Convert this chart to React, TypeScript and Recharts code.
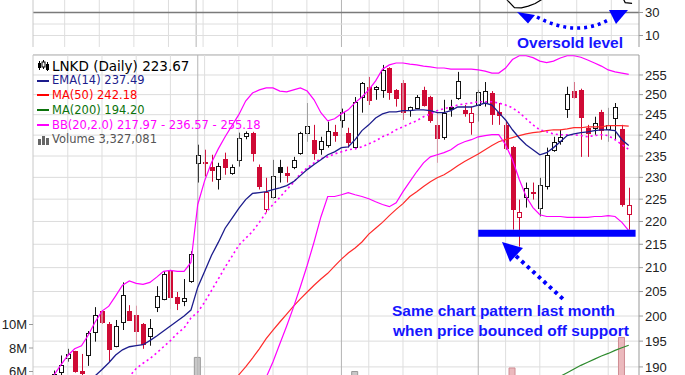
import React from "react";
import {
  ComposedChart,
  LineChart,
  Bar,
  Line,
  XAxis,
  YAxis,
  CartesianGrid,
  ReferenceLine,
  Cell,
} from "recharts";

// 88 daily slots: 2 hidden lead-in days, 85 visible sessions, 1 empty slot at the right edge
const slots = Array.from({ length: 88 }, (_, i) => i);

const opens = [184.5, 185.9,
  187.6, 189.1, 191.8, 193.1, 189.3, 192.2, 196.8, 201.0, 198.4, 194.1,
  198.8, 201.1, 200.2, 198.4, 196.0, 201.8, 203.5, 209.2, 203.9, 203.1,
  207.2, 233.4, 233.7, 232.5, 229.7, 234.4, 231.1, 234.1, 239.9, 240.6,
  232.5, 222.7, 225.4, 232.3, 231.1, 232.3, 235.8, 240.6, 238.9, 236.7,
  237.7, 240.8, 243.7, 240.6, 237.2, 249.4, 252.0, 251.5, 251.2, 256.8,
  251.2, 253.0, 246.2, 246.7, 251.2, 249.4, 242.5, 239.6, 246.9, 249.2,
  246.2, 243.3, 247.4, 247.9, 250.4, 245.7, 242.5, 237.2, 220.9, 225.4,
  226.7, 223.1, 227.9, 236.5, 238.6, 246.4, 250.9, 251.2, 241.8, 241.8,
  245.7, 241.5, 244.2, 241.5, 221.6, null];

const highs = [186.2, 187.6,
  189.3, 192.2, 193.5, 193.1, 192.5, 197.0, 201.8, 201.2, 198.8, 199.2,
  206.9, 202.2, 202.1, 198.6, 199.4, 206.1, 209.2, 209.6, 204.9, 207.6,
  213.5, 237.7, 236.5, 235.3, 233.4, 235.8, 233.0, 240.6, 240.9, 240.8,
  233.0, 229.9, 234.1, 234.1, 232.5, 234.8, 240.8, 247.9, 242.5, 239.6,
  243.3, 242.5, 246.5, 241.8, 249.4, 253.2, 254.5, 252.2, 257.6, 257.0,
  251.4, 253.7, 247.0, 249.9, 252.0, 249.7, 245.5, 248.7, 248.7, 255.8,
  247.4, 247.0, 251.2, 253.2, 250.9, 247.9, 243.3, 237.4, 224.9, 228.8,
  228.8, 229.9, 237.0, 239.6, 241.3, 252.0, 253.2, 251.5, 242.5, 244.5,
  246.2, 246.7, 247.9, 242.5, 227.6, null];

const lows = [183.6, 185.1,
  186.8, 188.2, 191.0, 188.9, 188.0, 190.2, 194.9, 198.4, 191.0, 193.8,
  197.2, 199.0, 194.1, 193.5, 194.1, 200.8, 203.2, 201.4, 201.2, 202.0,
  206.8, 228.8, 230.2, 229.0, 227.2, 230.6, 230.6, 232.5, 239.0, 233.7,
  227.2, 222.0, 225.1, 228.8, 228.8, 231.9, 235.3, 238.4, 234.1, 235.3,
  237.0, 238.4, 241.8, 237.0, 237.0, 245.5, 247.4, 248.7, 249.2, 248.7,
  247.0, 243.7, 244.5, 246.4, 247.0, 243.0, 233.4, 238.9, 244.5, 248.7,
  244.5, 240.1, 243.3, 247.0, 242.5, 242.5, 236.5, 218.2, 214.5, 223.1,
  224.9, 221.1, 227.2, 236.0, 237.7, 244.2, 249.0, 234.8, 234.8, 240.1,
  238.9, 238.4, 238.9, 223.3, 218.2, null];

const closes = [185.8, 187.0,
  188.6, 190.4, 192.5, 189.3, 188.8, 196.6, 200.2, 198.8, 193.5, 198.0,
  204.3, 199.2, 197.0, 194.5, 197.6, 204.1, 208.6, 203.9, 202.6, 203.7,
  212.8, 235.3, 233.4, 231.6, 232.7, 232.3, 232.5, 239.4, 240.5, 235.8,
  227.9, 226.7, 230.2, 231.3, 230.6, 234.1, 240.6, 242.3, 235.8, 238.7,
  241.1, 240.1, 245.7, 238.4, 248.2, 253.0, 248.7, 251.9, 256.3, 250.7,
  249.2, 245.7, 246.9, 249.4, 247.4, 243.7, 239.4, 245.5, 246.4, 253.5,
  245.5, 245.3, 250.7, 251.0, 245.1, 244.9, 237.0, 222.7, 222.0, 227.6,
  226.5, 228.3, 235.3, 238.4, 239.6, 250.2, 249.4, 244.5, 240.6, 243.0,
  241.3, 242.5, 246.9, 223.8, 223.67, null];

// volume in millions of shares
const volumes = [3.1, 3.4,
  3.2, 3.6, 3.0, 3.9, 2.8, 4.4, 4.8, 3.7, 4.1, 3.3,
  5.0, 3.9, 3.5, 3.8, 2.9, 4.2, 4.6, 4.3, 2.7, 3.0,
  5.3, 7.2, 5.2, 3.4, 2.9, 2.6, 2.3, 3.6, 2.8, 3.2,
  3.9, 4.3, 3.1, 2.5, 2.2, 2.6, 3.4, 3.9, 3.3, 2.4,
  2.8, 2.1, 3.0, 3.2, 6.0, 4.4, 3.6, 2.7, 4.1, 3.8,
  2.6, 3.5, 2.4, 2.2, 2.5, 3.0, 4.2, 3.3, 2.0, 3.4,
  2.6, 2.7, 2.9, 2.3, 3.1, 2.4, 3.8, 6.3, 5.1, 3.6,
  2.5, 3.3, 4.0, 2.9, 2.2, 3.9, 2.4, 3.5, 2.9, 2.1,
  2.6, 2.3, 2.8, 8.9, 3.327081, null];

const ema14 = [181.5, 182.5,
  183.3, 184.2, 185.1, 185.6, 186.0, 187.0, 188.3, 189.5, 190.8, 192.3,
  193.3, 193.9, 194.1, 194.3, 195.1, 196.0, 197.0, 198.0, 199.0, 200.0,
  201.2, 205.9, 209.2, 212.6, 215.4, 218.5, 220.7, 222.9, 224.9, 226.3,
  226.5, 226.7, 227.2, 227.6, 228.1, 229.0, 230.4, 231.8, 233.0, 234.1,
  235.3, 236.0, 237.0, 237.2, 238.9, 241.1, 242.5, 244.2, 245.2, 245.7,
  245.7, 246.0, 246.0, 246.2, 246.2, 246.0, 245.5, 245.5, 246.0, 246.9,
  246.9, 246.9, 247.4, 247.9, 247.4, 245.5, 243.7, 241.3, 239.3, 237.7,
  236.5, 235.3, 235.8, 237.0, 238.4, 239.9, 240.3, 240.6, 240.8, 241.1,
  241.3, 241.3, 241.1, 238.9, 237.49, null];

const ma50 = [null, null,
  null, null, null, null, null, null, null, null, null, null,
  null, null, null, null, null, null, null, null, null, 180.6,
  181.2, 181.8, 182.5, 183.3, 184.2, 185.3, 186.8, 188.5, 190.0, 191.7,
  193.5, 195.5, 197.2, 198.8, 200.4, 202.0, 203.5, 204.9, 206.3, 207.6,
  208.8, 210.3, 211.8, 213.1, 214.2, 215.5, 217.2, 218.5, 219.8, 221.3,
  222.7, 224.0, 225.6, 226.7, 227.9, 229.0, 229.9, 230.6, 231.6, 232.7,
  233.7, 234.6, 235.5, 236.5, 237.5, 238.4, 238.9, 239.4, 239.9, 240.3,
  240.6, 240.8, 241.1, 241.3, 241.3, 241.5, 241.8, 241.8, 242.0, 242.0,
  242.0, 242.3, 242.3, 242.3, 242.18, null];

const ma200 = [null, null,
  null, null, null, null, null, null, null, null, null, null,
  null, null, null, null, null, null, null, null, null, null,
  null, null, null, null, null, null, null, null, null, null,
  null, null, null, null, null, null, null, null, null, null,
  null, null, null, null, null, null, null, null, null, null,
  null, null, null, null, null, null, null, null, null, null,
  null, null, null, null, null, null, null, null, null, 185.0,
  185.8, 186.5, 187.1, 187.7, 188.2, 188.9, 189.6, 190.3, 190.9, 191.5,
  192.1, 192.6, 193.2, 193.7, 194.2, null];

const bbMid = [null, null,
  176.0, 177.0, 178.0, 178.8, 179.5, 180.3, 181.1, 182.0, 183.5, 185.0,
  186.6, 188.2, 189.7, 190.7, 191.6, 192.7, 193.9, 195.1, 196.5, 197.6,
  199.6, 200.8, 202.8, 205.2, 207.6, 210.1, 212.4, 214.8, 216.3, 217.8,
  219.8, 222.0, 223.8, 225.4, 227.2, 228.8, 230.9, 232.2, 233.4, 234.4,
  234.8, 235.5, 236.0, 236.5, 236.7, 237.2, 237.9, 238.6, 239.6, 240.3,
  241.3, 242.0, 242.8, 243.5, 244.5, 245.2, 246.0, 246.5, 246.9, 247.4,
  247.7, 247.9, 248.2, 248.2, 248.2, 247.9, 247.4, 246.7, 245.5, 244.0,
  242.5, 241.3, 240.8, 240.3, 240.1, 240.1, 240.1, 239.9, 239.6, 239.9,
  240.1, 239.9, 238.9, 237.7, 236.57, null];

const bbUpper = [null, null,
  188.5, 190.4, 192.2, 193.5, 194.1, 196.2, 198.8, 201.0, 202.0, 204.1,
  206.3, 207.2, 206.7, 206.5, 206.9, 208.0, 209.2, 209.4, 209.2, 209.2,
  211.1, 223.8, 229.2, 233.4, 236.7, 239.6, 242.3, 245.0, 248.4, 250.4,
  251.2, 251.7, 251.7, 250.9, 250.7, 251.2, 251.7, 250.9, 248.7, 245.5,
  243.5, 244.0, 245.2, 246.2, 248.0, 249.4, 251.2, 253.5, 256.5, 257.6,
  258.1, 258.1, 257.8, 257.6, 257.3, 257.1, 256.8, 256.8, 256.5, 256.5,
  256.5, 256.5, 256.3, 256.0, 255.5, 255.5, 256.8, 259.0, 260.0, 260.0,
  259.5, 258.6, 258.2, 258.6, 259.4, 260.0, 260.0, 259.6, 258.9, 258.1,
  257.3, 256.3, 255.8, 255.5, 255.18, null];

const bbLower = [null, null,
  163.5, 163.6, 163.8, 164.1, 164.9, 164.4, 163.4, 163.0, 165.0, 166.0,
  167.0, 169.2, 172.7, 174.9, 176.3, 177.4, 178.6, 180.8, 183.8, 186.0,
  188.0, 177.8, 176.4, 177.0, 178.5, 180.6, 182.5, 183.8, 184.2, 184.8,
  186.0, 188.0, 191.0, 194.5, 198.0, 201.8, 206.0, 210.5, 215.5, 221.0,
  225.6, 225.6, 226.0, 226.5, 226.0, 225.6, 225.1, 224.4, 223.8, 223.3,
  224.2, 226.7, 229.0, 231.3, 233.4, 234.8, 235.3, 235.8, 236.5, 237.7,
  238.4, 238.9, 239.6, 239.9, 240.1, 240.1, 237.7, 234.1, 229.5, 225.6,
  223.1, 221.5, 221.1, 221.1, 221.1, 220.9, 220.9, 220.9, 220.9, 221.1,
  221.1, 221.3, 221.1, 219.8, 217.97, null];

const rsi = [55, 58,
  60, 62, 64, 56, 55, 62, 66, 62, 55, 61,
  66, 60, 57, 53, 55, 61, 66, 58, 57, 58,
  66, 82, 81, 79, 80, 78, 78, 81, 81, 73,
  64, 62, 66, 67, 66, 68, 72, 74, 66, 68,
  70, 69, 73, 65, 74, 77, 71, 73, 77, 66,
  63, 56, 57, 60, 55, 49, 45, 54, 53, 59,
  52, 52, 57, 57, 50, 48, 40.5, 34.2, 34.0, 35.6,
  37.8, 41.5, 48, 52, 53, 60, 58, 50, 47, 49,
  46, 47, 51, 38.6, 38.0, null];

const priceTicks = [190, 195, 200, 205, 210, 215, 220, 225, 230, 235, 240, 245, 250, 255];
const volTicks = [6, 8, 10];
const rsiTicks = [10, 30];
const weekSlots = [4, 9, 14, 19, 24, 29, 34, 39, 48, 53, 58, 68, 73, 78, 83];
const monthSlots = [23, 44, 64];
const supportLevel = 217.4;
const supportFrom = 64;
const supportTo = 87;

const RED = "#cf0a35";
const BLUE = "#0000ff";
const axisFont = { fontSize: 13, fill: "#222", fontFamily: "Liberation Sans, Arial, sans-serif" };

const rows = slots.map((s, i) => ({
  slot: s,
  open: opens[i],
  high: highs[i],
  low: lows[i],
  close: closes[i],
  prevClose: i > 0 ? closes[i - 1] : null,
  vol: volumes[i],
  ema: ema14[i],
  ma50: ma50[i],
  ma200: ma200[i],
  bbU: bbUpper[i],
  bbM: bbMid[i],
  bbL: bbLower[i],
  rsi: rsi[i],
}));

const last = 86;

function Candle(props: any) {
  const { x, y, width, height, payload } = props;
  if (!payload || payload.high == null || y == null || isNaN(y)) return <g />;
  const { open, close, high, low, prevClose } = payload;
  const top = Math.min(y, y + height);
  const span = Math.abs(height);
  const lh = Math.log(high);
  const range = lh - Math.log(low) || 1;
  const toY = (v: number) => top + (span * (lh - Math.log(v))) / range;
  const cx = Math.round(x + width / 2) + 0.5;
  const color = prevClose != null && close < prevClose ? RED : "#111";
  const hollow = close > open;
  const bTop = Math.round(toY(Math.max(open, close))) + 0.5;
  const bBot = Math.round(toY(Math.min(open, close))) + 0.5;
  return (
    <g>
      <line x1={cx} x2={cx} y1={top} y2={top + span} stroke={color} strokeWidth={1} />
      <rect
        x={cx - 2}
        y={bTop}
        width={4}
        height={Math.max(bBot - bTop, 1)}
        fill={hollow ? "#fff" : color}
        stroke={color}
        strokeWidth={1}
      />
    </g>
  );
}

function gridLines(yId: string) {
  return [
    ...weekSlots.map((k) => (
      <ReferenceLine key={"w" + k} x={k} yAxisId={yId} stroke="#dedede" strokeWidth={1} />
    )),
    ...monthSlots.map((k) => (
      <ReferenceLine key={"m" + k} x={k} yAxisId={yId} stroke="#b4b4b4" strokeWidth={1} />
    )),
  ];
}

const CandleIcon = () => (
  <svg width={13} height={11}>
    <line x1={2.5} x2={2.5} y1={1} y2={10} stroke="#000" />
    <rect x={1} y={3} width={3} height={5} fill="#000" />
    <line x1={6.5} x2={6.5} y1={0} y2={9} stroke="#000" />
    <rect x={5} y={2} width={3} height={5} fill="#fff" stroke="#000" />
    <line x1={10.5} x2={10.5} y1={2} y2={11} stroke="#000" />
    <rect x={9} y={4} width={3} height={6} fill="#000" />
  </svg>
);

const VolIcon = () => (
  <svg width={13} height={11}>
    <rect x={1} y={5} width={3} height={6} fill="#666" />
    <rect x={5} y={2} width={3} height={9} fill="#666" />
    <rect x={9} y={4} width={3} height={7} fill="#666" />
  </svg>
);

const Dash = ({ color }: { color: string }) => (
  <span style={{ display: "inline-block", width: 12, height: 2, background: color, marginRight: 1 }} />
);

export default function App() {
  const legend = [
    { text: `LNKD (Daily) ${closes[last]!.toFixed(2)}`, color: "#000", icon: <CandleIcon />, size: 13.5 },
    { text: `EMA(14) ${ema14[last]!.toFixed(2)}`, color: "#1c1c8c", icon: <Dash color="#1c1c8c" />, size: 11.5 },
    { text: `MA(50) ${ma50[last]!.toFixed(2)}`, color: "#f00", icon: <Dash color="#f00" />, size: 11.5 },
    { text: `MA(200) ${ma200[last]!.toFixed(2)}`, color: "#0b730b", icon: <Dash color="#0b730b" />, size: 11.5 },
    {
      text: `BB(20,2.0) ${bbLower[last]!.toFixed(2)} - ${bbMid[last]!.toFixed(2)} - ${bbUpper[last]!.toFixed(2)}`,
      color: "#f0f",
      icon: <Dash color="#f0f" />,
      size: 11.5,
    },
    {
      text: `Volume ${Math.round(volumes[last]! * 1e6).toLocaleString("en-US")}`,
      color: "#555",
      icon: <VolIcon />,
      size: 11.5,
    },
  ];

  return (
    <div
      style={{
        position: "absolute",
        left: 0,
        top: 0,
        width: 685,
        height: 375,
        overflow: "hidden",
        background: "#fff",
      }}
    >
      {/* panel divider */}
      <div style={{ position: "absolute", left: 33, top: 54, width: 606, height: 2, background: "#cfcfcf" }} />

      {/* indicator panel */}
      <div style={{ position: "absolute", left: 0, top: -68.5 }}>
        <LineChart width={685} height={115} data={rows} margin={{ top: 0, right: 0, bottom: 0, left: 0 }}>
          <XAxis dataKey="slot" hide padding={{ left: 4, right: 0 }} />
          <YAxis
            yAxisId="r"
            orientation="right"
            domain={[0, 100]}
            ticks={rsiTicks}
            interval={0}
            width={46}
            tick={axisFont}
            tickSize={4}
            tickLine={{ stroke: "#999" }}
            axisLine={{ stroke: "#999" }}
          />
          <YAxis
            yAxisId="l"
            orientation="left"
            domain={[0, 100]}
            width={33}
            tick={false}
            tickLine={false}
            axisLine={{ stroke: "#c8c8c8" }}
          />
          {gridLines("r")}
          <ReferenceLine yAxisId="r" y={10} stroke="#dedede" />
          <ReferenceLine yAxisId="r" y={20} stroke="#dedede" />
          <ReferenceLine yAxisId="r" y={30} stroke="#7a7a7a" strokeWidth={1.5} />
          <Line
            yAxisId="r"
            type="linear"
            dataKey="rsi"
            stroke="#000"
            strokeWidth={1.2}
            dot={false}
            isAnimationActive={false}
          />
        </LineChart>
      </div>

      {/* price panel */}
      <div style={{ position: "absolute", left: 0, top: 55 }}>
        <ComposedChart width={685} height={387} data={rows} margin={{ top: 0, right: 0, bottom: 0, left: 0 }}>
          <XAxis dataKey="slot" hide padding={{ left: 4, right: 0 }} />
          <XAxis xAxisId="v" dataKey="slot" hide padding={{ left: 4, right: 0 }} />
          <YAxis
            yAxisId="p"
            orientation="right"
            scale="log"
            domain={[176.15, 260.19]}
            allowDataOverflow
            ticks={priceTicks}
            interval={0}
            width={46}
            tick={axisFont}
            tickSize={4}
            tickLine={{ stroke: "#999" }}
            axisLine={{ stroke: "#999" }}
          />
          <YAxis
            yAxisId="v"
            orientation="left"
            domain={[0, 32.94]}
            allowDataOverflow
            ticks={volTicks}
            interval={0}
            width={33}
            tick={axisFont}
            tickSize={4}
            tickFormatter={(v) => `${v}M`}
            tickLine={{ stroke: "#999" }}
            axisLine={{ stroke: "#c8c8c8" }}
          />
          <CartesianGrid yAxisId="p" vertical={false} stroke="#dcdcdc" />
          {gridLines("p")}
          <Bar xAxisId="v" yAxisId="v" dataKey="vol" barSize={6} isAnimationActive={false}>
            {rows.map((r, i) => {
              const down = r.prevClose != null && r.close != null && r.close < r.prevClose;
              return (
                <Cell
                  key={i}
                  fill={down ? "#ebb9bd" : "#c8c8c8"}
                  stroke={down ? "#cf8c93" : "#999"}
                />
              );
            })}
          </Bar>
          <Bar
            yAxisId="p"
            dataKey={(d: any) => (d.high == null ? null : [d.low, d.high])}
            barSize={5}
            shape={(p: any) => <Candle {...p} />}
            isAnimationActive={false}
          />
          <Line yAxisId="p" type="linear" dataKey="ma200" stroke="#2e8b2e" strokeWidth={1.2} dot={false} isAnimationActive={false} />
          <Line yAxisId="p" type="linear" dataKey="ma50" stroke="#ff2a2a" strokeWidth={1.2} dot={false} isAnimationActive={false} />
          <Line yAxisId="p" type="linear" dataKey="bbU" stroke="#ff00ff" strokeWidth={1.2} dot={false} isAnimationActive={false} />
          <Line yAxisId="p" type="linear" dataKey="bbL" stroke="#ff00ff" strokeWidth={1.2} dot={false} isAnimationActive={false} />
          <Line
            yAxisId="p"
            type="linear"
            dataKey="bbM"
            stroke="#ff00ff"
            strokeWidth={1.6}
            strokeDasharray="2 3"
            dot={false}
            isAnimationActive={false}
          />
          <Line yAxisId="p" type="linear" dataKey="ema" stroke="#1c1c8c" strokeWidth={1.3} dot={false} isAnimationActive={false} />
          <ReferenceLine
            yAxisId="p"
            segment={[
              { x: supportFrom, y: supportLevel },
              { x: supportTo, y: supportLevel },
            ]}
            stroke={BLUE}
            strokeWidth={7}
          />
        </ComposedChart>
      </div>

      {/* legend */}
      <div
        style={{
          position: "absolute",
          left: 37,
          top: 58.5,
          fontFamily: "DejaVu Sans, Verdana, sans-serif",
          lineHeight: "14.8px",
        }}
      >
        {legend.map((r, i) => (
          <div
            key={i}
            style={{
              display: "flex",
              alignItems: "center",
              color: r.color,
              whiteSpace: "nowrap",
              fontSize: r.size,
              height: 14.8,
            }}
          >
            <span style={{ width: 15, display: "inline-flex", alignItems: "center" }}>{r.icon}</span>
            <span>{r.text}</span>
          </div>
        ))}
      </div>

      {/* annotations */}
      <svg width={685} height={375} style={{ position: "absolute", left: 0, top: 0, pointerEvents: "none" }}>
        <g fill={BLUE}>
          <polygon points="517,12 535,15 528,23.5" />
          <polygon points="609,10 628,10 616,24" />
          <polygon points="502,242 523,248 510,262" />
        </g>
        <path d="M537,17 Q577,38 610,19" stroke={BLUE} strokeWidth={3.5} strokeDasharray="3 4" fill="none" />
        <line x1={516} y1={256} x2={563} y2={299} stroke={BLUE} strokeWidth={4} strokeDasharray="3.5 4" />
        <g fill="#1515ff" fontFamily="Liberation Sans, Arial, sans-serif" fontWeight="bold" fontSize={15.5}>
          <text x={517} y={47.5}>Oversold level</text>
          <text x={392} y={315.5}>Same chart pattern last month</text>
          <text x={393} y={335.5}>when price bounced off support</text>
        </g>
      </svg>
    </div>
  );
}
